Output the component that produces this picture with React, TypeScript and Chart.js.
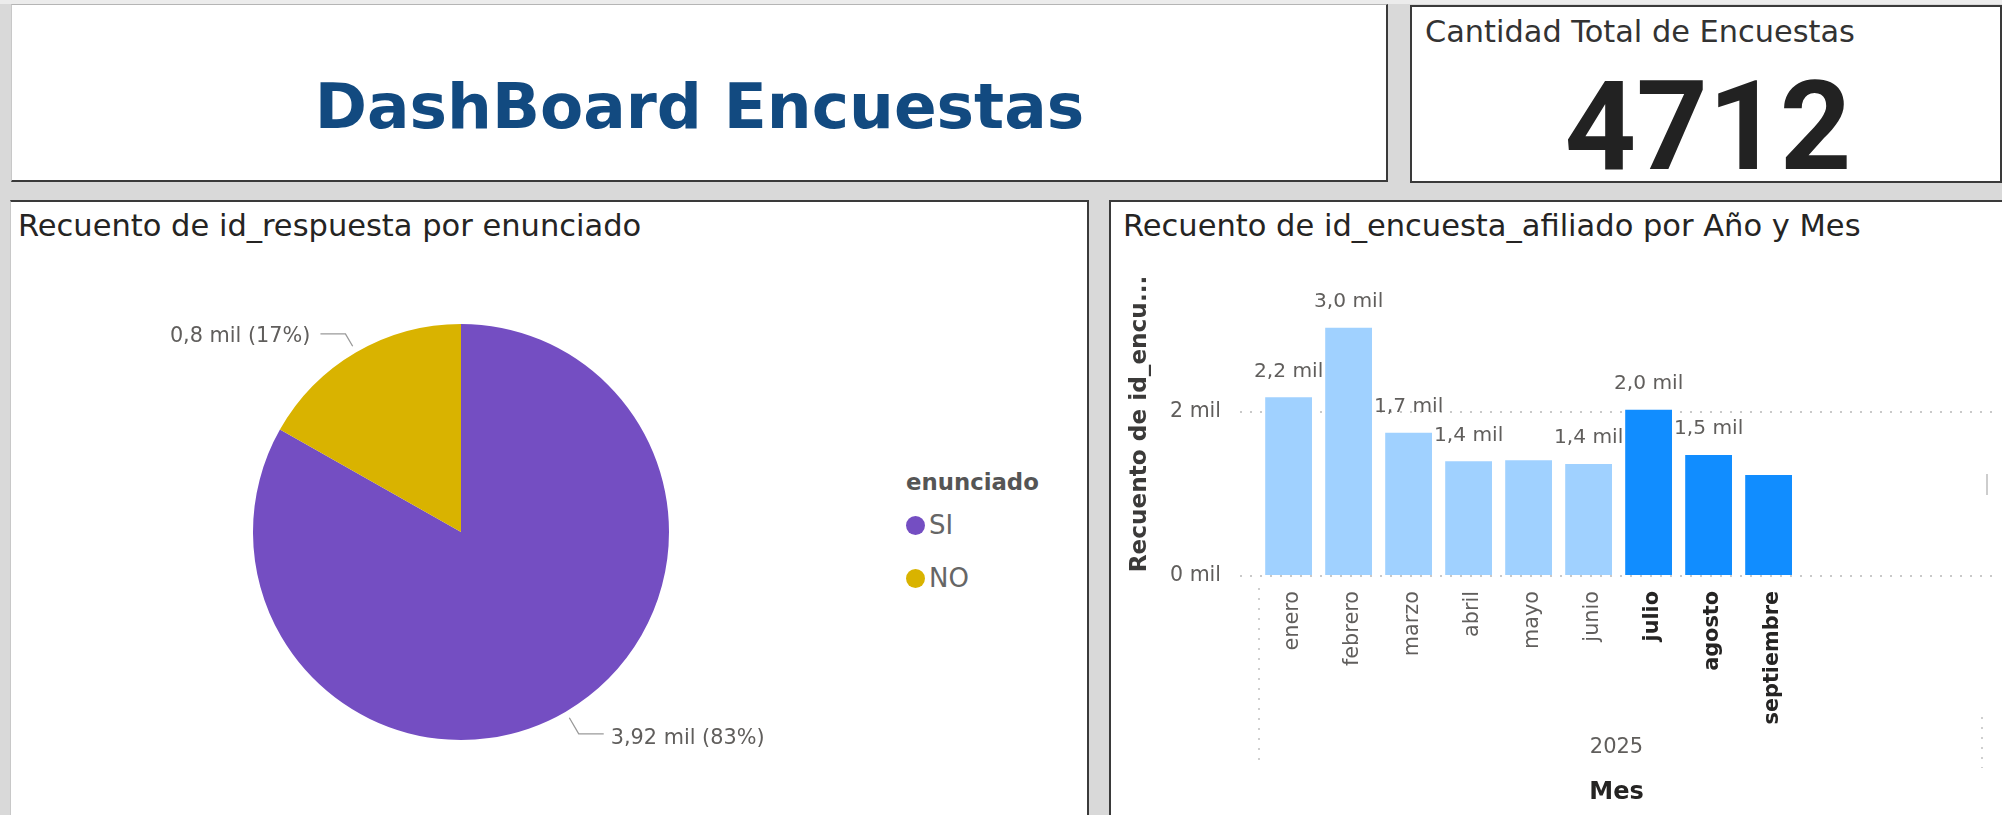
import React, { useEffect, useRef } from 'react';
import { Chart, registerables } from 'chart.js';

Chart.register(...registerables);

// ---------- data ----------
const dashboardTitle = 'DashBoard Encuestas';
const kpiTitle = 'Cantidad Total de Encuestas';
const totalEncuestas = 4712;

const pieTitle = 'Recuento de id_respuesta por enunciado';
const pieLegendTitle = 'enunciado';
const pieLabels = ['SI', 'NO'];
const pieValues = [3920, 792];
const pieDecimals = [2, 1];
const pieColors = ['#744EC2', '#D9B300'];

const barTitle = 'Recuento de id_encuesta_afiliado por Año y Mes';
const barYTitle = 'Recuento de id_encu...';
const barXTitle = 'Mes';
const yearLabel = '2025';
const months = ['enero', 'febrero', 'marzo', 'abril', 'mayo', 'junio', 'julio', 'agosto', 'septiembre'];
const monthValues = [2175, 3020, 1745, 1396, 1408, 1363, 2024, 1474, 1230];
const monthHighlighted = [false, false, false, false, false, false, true, true, true];
const monthLabelShown = [true, true, true, true, false, true, true, true, false];
const yTicks = [0, 2000];
const yMax = 3700;
const xMin = -0.81;
const xMax = 11.74;

// ---------- style ----------
const FONT = '"DejaVu Sans", sans-serif';
const DARK_BAR = '#118DFF';
const LIGHT_BAR = '#A0D1FF';
const LABEL_GRAY = '#605E5C';
const TEXT_DARK = '#252423';

const fmtMil = (v: number, d: number) => (v / 1000).toFixed(d).replace('.', ',') + ' mil';

const pieLabelPlugin = {
  id: 'pieLabelPlugin',
  afterDatasetsDraw(chart: any) {
    const meta = chart.getDatasetMeta(0);
    const data: number[] = chart.data.datasets[0].data;
    const total = data.reduce((a, b) => a + b, 0);
    const ctx = chart.ctx;
    ctx.save();
    meta.data.forEach((arc: any, i: number) => {
      const p = arc.getProps(['x', 'y', 'startAngle', 'endAngle', 'outerRadius'], true);
      const mid = (p.startAngle + p.endAngle) / 2;
      const c = Math.cos(mid);
      const s = Math.sin(mid);
      const ext = 23.5 + 2.5 * s;
      const x1 = p.x + c * (p.outerRadius + 7);
      const y1 = p.y + s * (p.outerRadius + 7);
      const x2 = p.x + c * (p.outerRadius + ext);
      const y2 = p.y + s * (p.outerRadius + ext);
      const right = c >= 0;
      const x3 = x2 + (right ? 25 : -25);
      ctx.strokeStyle = '#9a9a9a';
      ctx.lineWidth = 1.3;
      ctx.beginPath();
      ctx.moveTo(x1, y1);
      ctx.lineTo(x2, y2);
      ctx.lineTo(x3, y2);
      ctx.stroke();
      const txt = fmtMil(data[i], pieDecimals[i]) + ' (' + Math.round((data[i] / total) * 100) + '%)';
      ctx.font = '20.8px ' + FONT;
      ctx.fillStyle = LABEL_GRAY;
      ctx.textAlign = right ? 'left' : 'right';
      ctx.textBaseline = 'middle';
      ctx.fillText(txt, x3 + (right ? 7 : -10), y2 + (s > 0 ? 5 : 3));
    });
    ctx.restore();
  },
};

const barDecorPlugin = {
  id: 'barDecorPlugin',
  afterDatasetsDraw(chart: any) {
    const meta = chart.getDatasetMeta(0);
    const data: number[] = chart.data.datasets[0].data.map((d: any) => d.y);
    const ctx = chart.ctx;
    ctx.save();
    ctx.font = '20.2px ' + FONT;
    ctx.fillStyle = LABEL_GRAY;
    ctx.textAlign = 'center';
    ctx.textBaseline = 'middle';
    meta.data.forEach((bar: any, i: number) => {
      if (!monthLabelShown[i]) return;
      ctx.fillText(fmtMil(data[i], 1), bar.x, bar.y - 26);
    });
    // hierarchy separators of the category axis
    const xs = chart.scales.x;
    const x2 = chart.scales.x2;
    ctx.strokeStyle = '#cfcfcf';
    ctx.lineWidth = 2;
    ctx.setLineDash([2, 8]);
    const lx = Math.round(xs.getPixelForValue(-0.5));
    ctx.beginPath();
    ctx.moveTo(lx, xs.top + 12);
    ctx.lineTo(lx, x2.top + 3);
    const rx = Math.round(chart.chartArea.right - 11);
    ctx.moveTo(rx, xs.bottom - 48);
    ctx.lineTo(rx, x2.top + 3);
    ctx.stroke();
    ctx.restore();
  },
};

export default function App() {
  const pieRef = useRef<HTMLCanvasElement>(null);
  const barRef = useRef<HTMLCanvasElement>(null);

  useEffect(() => {
    Chart.defaults.font.family = FONT;
    const pie = new Chart(pieRef.current as HTMLCanvasElement, {
      type: 'pie',
      data: {
        labels: pieLabels,
        datasets: [{ data: pieValues, backgroundColor: pieColors, borderWidth: 0 }],
      },
      options: {
        animation: false,
        responsive: true,
        maintainAspectRatio: false,
        layout: { padding: { left: 242, right: 222, top: 74, bottom: 75 } },
        plugins: { legend: { display: false }, tooltip: { enabled: false } },
      },
      plugins: [pieLabelPlugin],
    } as any);

    const bar = new Chart(barRef.current as HTMLCanvasElement, {
      type: 'bar',
      data: {
        datasets: [
          {
            data: months.map((m, i) => ({ x: i, y: monthValues[i] })),
            backgroundColor: monthHighlighted.map((h) => (h ? DARK_BAR : LIGHT_BAR)),
            borderWidth: 0,
            categoryPercentage: 1,
            barPercentage: 0.78,
          },
        ],
      },
      options: {
        animation: false,
        responsive: true,
        maintainAspectRatio: false,
        layout: { padding: { left: 0, right: 9, top: 22, bottom: 0 } },
        plugins: { legend: { display: false }, tooltip: { enabled: false } },
        scales: {
          x: {
            type: 'linear',
            position: 'bottom',
            offset: false,
            weight: 0,
            min: xMin,
            max: xMax,
            afterBuildTicks: (axis: any) => {
              axis.ticks = months.map((_, i) => ({ value: i }));
            },
            afterFit: (axis: any) => {
              axis.height = 189;
              axis.paddingLeft = 0;
              axis.paddingRight = 0;
            },
            grid: { display: false, drawTicks: false, offset: false },
            border: { display: false },
            ticks: {
              autoSkip: false,
              minRotation: 90,
              maxRotation: 90,
              padding: 15,
              labelOffset: 4,
              callback: (v: any) => months[v] ?? '',
              font: (c: any) => ({ family: FONT, size: 20.8, weight: monthHighlighted[c.index] ? 'bold' : 'normal' }),
              color: (c: any) => (monthHighlighted[c.index] ? TEXT_DARK : LABEL_GRAY),
            },
            title: {
              display: true,
              text: yearLabel,
              color: LABEL_GRAY,
              font: { family: FONT, size: 21 },
              padding: { top: 0, bottom: 5 },
            },
          },
          x2: {
            type: 'linear',
            position: 'bottom',
            weight: 1,
            afterFit: (axis: any) => {
              axis.height = 50;
              axis.paddingLeft = 0;
              axis.paddingRight = 0;
            },
            grid: { display: false, drawTicks: false },
            border: { display: false },
            ticks: { display: false },
            title: {
              display: true,
              text: barXTitle,
              color: TEXT_DARK,
              font: { family: FONT, size: 24, weight: 'bold' },
              padding: { top: 0, bottom: 8 },
            },
          },
          y: {
            type: 'linear',
            min: 0,
            max: yMax,
            afterBuildTicks: (axis: any) => {
              axis.ticks = yTicks.map((v) => ({ value: v }));
            },
            afterFit: (axis: any) => {
              axis.width = 128;
              axis.paddingTop = 0;
              axis.paddingBottom = 0;
            },
            grid: { color: '#c9c9c9', lineWidth: 2, drawTicks: false },
            border: { display: false, dash: [2, 8] },
            ticks: {
              padding: 19,
              color: LABEL_GRAY,
              font: { family: FONT, size: 20.5 },
              callback: (v: any) => v / 1000 + ' mil',
            },
            title: {
              display: true,
              text: barYTitle,
              color: '#3b3a39',
              font: { family: FONT, size: 23.2, weight: 'bold' },
              padding: { top: 14, bottom: 0 },
            },
          },
        },
      },
      plugins: [barDecorPlugin],
    } as any);

    return () => {
      pie.destroy();
      bar.destroy();
    };
  }, []);

  const abs = (l: number, t: number, w: number, h: number): React.CSSProperties => ({
    position: 'absolute',
    left: l,
    top: t,
    width: w,
    height: h,
    boxSizing: 'border-box',
  });

  return (
    <div
      style={{
        position: 'absolute',
        left: 0,
        top: 0,
        width: 2002,
        height: 815,
        overflow: 'hidden',
        background: '#d9d9d9',
        fontFamily: FONT,
      }}
    >
      <div style={{ ...abs(0, 0, 2002, 4), background: '#ececec' }} />
      {/* title card */}
      <div
        style={{
          ...abs(11, 4, 1377, 178),
          background: '#fff',
          borderTop: '1px solid #b5b5b5',
          borderLeft: '1px solid #c8c8c8',
          borderRight: '2px solid #3a3a3a',
          borderBottom: '2px solid #3a3a3a',
        }}
      />
      <div
        style={{
          position: 'absolute',
          left: 11,
          width: 1377,
          top: 75,
          textAlign: 'center',
          fontSize: 63,
          lineHeight: '63px',
          fontWeight: 'bold',
          color: '#124A80',
          whiteSpace: 'nowrap',
        }}
      >
        {dashboardTitle}
      </div>

      {/* KPI card */}
      <div style={{ ...abs(1410, 5, 592, 178), background: '#fff', border: '2px solid #3a3a3a' }} />
      <div
        style={{
          position: 'absolute',
          left: 1425,
          top: 17,
          fontSize: 30.4,
          lineHeight: '30.4px',
          color: '#333',
          whiteSpace: 'nowrap',
        }}
      >
        {kpiTitle}
      </div>
      <div
        style={{
          position: 'absolute',
          left: 1410,
          width: 596,
          top: 64,
          textAlign: 'center',
          fontFamily: 'Roboto, sans-serif',
          fontWeight: 'bold',
          fontSize: 125,
          lineHeight: '125px',
          color: '#222',
        }}
      >
        {totalEncuestas}
      </div>

      {/* pie panel */}
      <div
        style={{
          ...abs(10, 200, 1079, 630),
          background: '#fff',
          borderTop: '2px solid #3a3a3a',
          borderRight: '2px solid #3a3a3a',
          borderLeft: '1px solid #c8c8c8',
        }}
      />
      <div
        style={{
          position: 'absolute',
          left: 18,
          top: 211,
          fontSize: 30.5,
          lineHeight: '30.5px',
          color: TEXT_DARK,
          whiteSpace: 'nowrap',
        }}
      >
        {pieTitle}
      </div>
      <div style={abs(11, 250, 880, 565)}>
        <canvas ref={pieRef} />
      </div>
      <div
        style={{
          position: 'absolute',
          left: 906,
          top: 471,
          fontSize: 22.8,
          lineHeight: '22.8px',
          fontWeight: 'bold',
          color: '#555',
          whiteSpace: 'nowrap',
        }}
      >
        {pieLegendTitle}
      </div>
      {pieLabels.map((lab, i) => (
        <div
          key={lab}
          style={{
            position: 'absolute',
            left: 906,
            top: 512 + i * 53,
            height: 26,
            display: 'flex',
            alignItems: 'center',
            whiteSpace: 'nowrap',
          }}
        >
          <span
            style={{
              display: 'inline-block',
              width: 19,
              height: 19,
              borderRadius: '50%',
              background: pieColors[i],
              marginRight: 4,
            }}
          />
          <span style={{ fontSize: 26, lineHeight: '26px', color: '#666' }}>{lab}</span>
        </div>
      ))}

      {/* bar panel */}
      <div
        style={{
          ...abs(1109, 200, 900, 630),
          background: '#fff',
          borderTop: '2px solid #3a3a3a',
          borderLeft: '2px solid #3a3a3a',
        }}
      />
      <div
        style={{
          position: 'absolute',
          left: 1123,
          top: 211,
          fontSize: 30.5,
          lineHeight: '30.5px',
          color: TEXT_DARK,
          whiteSpace: 'nowrap',
        }}
      >
        {barTitle}
      </div>
      <div style={abs(1112, 250, 890, 565)}>
        <canvas ref={barRef} />
      </div>
      <div style={{ ...abs(1986, 474, 2, 21), background: '#cdcdcd' }} />
    </div>
  );
}
